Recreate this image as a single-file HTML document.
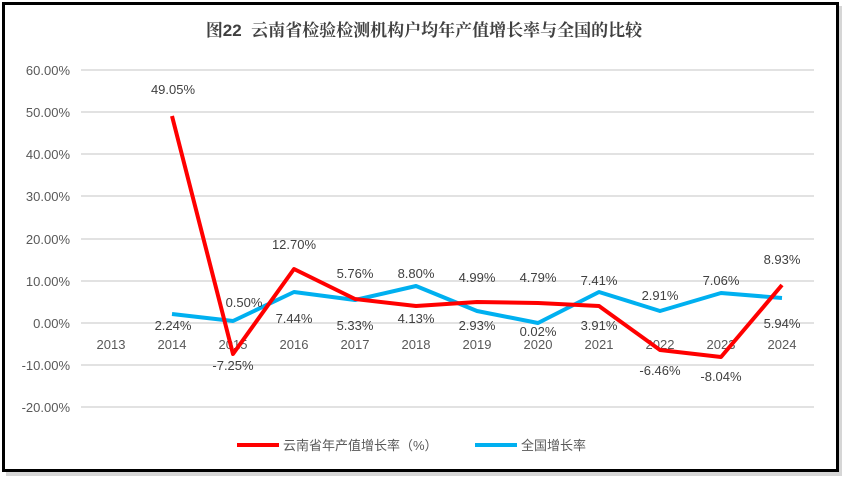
<!DOCTYPE html>
<html><head><meta charset="utf-8"><style>
body{margin:0;background:#fff;}
svg{display:block;font-family:"Liberation Sans","Noto Sans CJK SC",sans-serif;}
</style></head><body>
<svg width="849" height="484" xmlns="http://www.w3.org/2000/svg">
<rect x="0" y="0" width="849" height="484" fill="#fff"/>
<rect x="6" y="6" width="836" height="470" fill="#bbb" opacity="0.6"/>
<rect x="3.5" y="3.5" width="834" height="467" fill="#fff" stroke="#000" stroke-width="3"/>
<text x="424" y="36" text-anchor="middle" font-size="17" font-weight="bold" fill="#404040" font-family="'Liberation Sans','Noto Serif CJK SC',serif">图22&#160; 云南省检验检测机构户均年产值增长率与全国的比较</text>
<g stroke="#d9d9d9" stroke-width="1.5">
<line x1="81" x2="814" y1="70" y2="70"/><line x1="81" x2="814" y1="112" y2="112"/>
<line x1="81" x2="814" y1="154" y2="154"/><line x1="81" x2="814" y1="196" y2="196"/>
<line x1="81" x2="814" y1="239" y2="239"/><line x1="81" x2="814" y1="281" y2="281"/>
<line x1="81" x2="814" y1="323" y2="323"/><line x1="81" x2="814" y1="365" y2="365"/>
<line x1="81" x2="814" y1="407" y2="407"/>
</g>
<g font-size="13" fill="#595959" text-anchor="end">
<text x="70" y="75">60.00%</text><text x="70" y="117">50.00%</text><text x="70" y="159">40.00%</text>
<text x="70" y="201">30.00%</text><text x="70" y="244">20.00%</text><text x="70" y="286">10.00%</text>
<text x="70" y="328">0.00%</text><text x="70" y="370">-10.00%</text><text x="70" y="412">-20.00%</text>
</g>
<g font-size="13" fill="#595959" text-anchor="middle">
<text x="111" y="349">2013</text><text x="172" y="349">2014</text><text x="233" y="349">2015</text>
<text x="294" y="349">2016</text><text x="355" y="349">2017</text><text x="416" y="349">2018</text>
<text x="477" y="349">2019</text><text x="538" y="349">2020</text><text x="599" y="349">2021</text>
<text x="660" y="349">2022</text><text x="721" y="349">2023</text><text x="782" y="349">2024</text>
</g>
<polyline fill="none" stroke="#00b0f0" stroke-width="4" stroke-linejoin="round" points="172,314 233,321 294,292 355,300 416,286 477,311 538,323 599,292 660,311 721,293 782,298"/>
<polyline fill="none" stroke="#ff0000" stroke-width="4" stroke-linejoin="round" points="172,116 233,354 294,269 355,299 416,306 477,302 538,303 599,306 660,350 721,357 782,285"/>
<g font-size="13" fill="#404040" text-anchor="middle">
<text x="173" y="94">49.05%</text><text x="233" y="370">-7.25%</text><text x="294" y="249">12.70%</text>
<text x="355" y="278">5.76%</text><text x="416" y="278">8.80%</text><text x="477" y="282">4.99%</text>
<text x="538" y="282">4.79%</text><text x="599" y="330">3.91%</text><text x="660" y="375">-6.46%</text>
<text x="721" y="381">-8.04%</text><text x="782" y="264">8.93%</text>
<text x="173" y="330">2.24%</text><text x="244" y="307">0.50%</text><text x="294" y="323">7.44%</text>
<text x="355" y="330">5.33%</text><text x="416" y="323">4.13%</text><text x="477" y="330">2.93%</text>
<text x="538" y="336">0.02%</text><text x="599" y="285">7.41%</text><text x="660" y="300">2.91%</text>
<text x="721" y="285">7.06%</text><text x="782" y="328">5.94%</text>
</g>
<line x1="237" x2="279" y1="445" y2="445" stroke="#ff0000" stroke-width="4"/>
<text x="283" y="450" font-size="13" fill="#595959">云南省年产值增长率（%）</text>
<line x1="475" x2="517" y1="445" y2="445" stroke="#00b0f0" stroke-width="4"/>
<text x="521" y="450" font-size="13" fill="#595959">全国增长率</text>
</svg>
</body></html>
